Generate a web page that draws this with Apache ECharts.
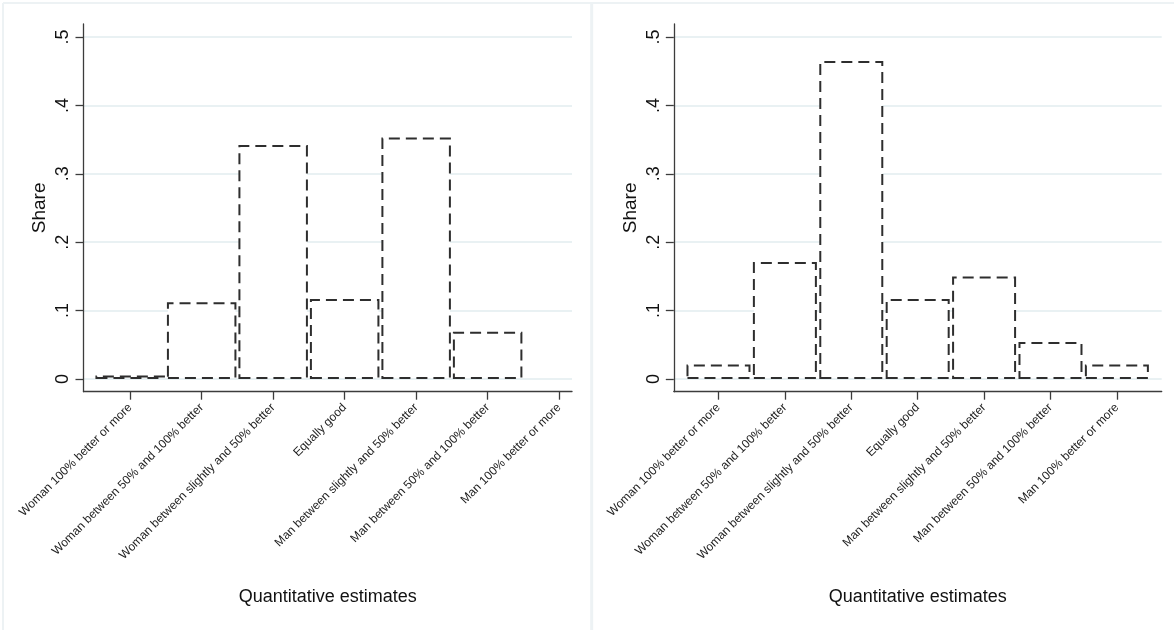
<!DOCTYPE html>
<html>
<head>
<meta charset="utf-8">
<script src="https://cdn.jsdelivr.net/npm/echarts@6/dist/echarts.min.js"></script>
<style>
  html, body { margin: 0; padding: 0; background: #fff; }
  #chart { width: 1174px; height: 630px; }
</style>
</head>
<body>
<div id="chart"></div>
<script>
const categories = [
  'Woman 100% better or more',
  'Woman between 50% and 100% better',
  'Woman between slightly and 50% better',
  'Equally good',
  'Man between slightly and 50% better',
  'Man between 50% and 100% better',
  'Man 100% better or more'
];
const categoryPositions = [1, 2, 3, 4, 5, 6, 7];
const leftShares = [0.005, 0.112, 0.342, 0.117, 0.353, 0.069, 0];
const rightShares = [0.021, 0.171, 0.465, 0.117, 0.150, 0.054, 0.021];
const yTicks = [0, 0.1, 0.2, 0.3, 0.4, 0.5];
const yTickLabels = ['0', '.1', '.2', '.3', '.4', '.5'];
const yTitle = 'Share';
const xTitle = 'Quantitative estimates';

const FONT = '"Liberation Sans", Arial, sans-serif';
const AXIS_COLOR = '#3c3c3c';
const GRID_COLOR = '#e2ecef';

function barData(values) {
  return categoryPositions.map((p, i) => [p, values[i] === 0 ? '-' : values[i]]);
}

function yAxisCfg(gridIndex) {
  return {
    type: 'value', gridIndex,
    min: -0.0186, max: 0.519,
    name: yTitle, nameLocation: 'middle', nameRotate: 90, nameGap: 34,
    nameTextStyle: { fontFamily: FONT, fontSize: 19, color: '#111' },
    axisLine: { show: true, lineStyle: { color: AXIS_COLOR, width: 1.3 } },
    axisTick: { show: true, length: 8, customValues: yTicks, lineStyle: { color: AXIS_COLOR, width: 1.3 } },
    axisLabel: {
      customValues: yTicks, rotate: 90, margin: 11,
      fontFamily: FONT, fontSize: 18, color: '#111',
      formatter: v => yTickLabels[yTicks.findIndex(t => Math.abs(t - v) < 1e-6)]
    },
    splitLine: { show: true, lineStyle: { color: GRID_COLOR, width: 1.5 } }
  };
}

function xAxisCfg(gridIndex, min, max) {
  return {
    type: 'value', gridIndex, min, max,
    name: xTitle, nameLocation: 'middle', nameGap: 196,
    nameTextStyle: { fontFamily: FONT, fontSize: 18, color: '#111' },
    axisLine: { show: true, onZero: false, lineStyle: { color: AXIS_COLOR, width: 1.3 } },
    axisTick: { show: true, length: 8, customValues: categoryPositions, lineStyle: { color: AXIS_COLOR, width: 1.3 } },
    axisLabel: {
      customValues: categoryPositions, rotate: 45, margin: 14,
      fontFamily: FONT, fontSize: 12, color: '#222',
      formatter: v => categories[Math.round(v) - 1]
    },
    splitLine: { show: false }
  };
}

function barSeries(idx, values, width) {
  return {
    type: 'bar', xAxisIndex: idx, yAxisIndex: idx,
    data: barData(values),
    barWidth: width,
    itemStyle: {
      color: '#ffffff',
      borderColor: '#2e2e2e',
      borderWidth: 2,
      borderType: [11, 6]
    },
    silent: true
  };
}

const chart = echarts.init(document.getElementById('chart'), null, { renderer: 'canvas' });
chart.setOption({
  animation: false,
  backgroundColor: '#ffffff',
  grid: [
    { left: 83.5, top: 24, width: 488.5, height: 367.7 },
    { left: 673.8, top: 24, width: 487.9, height: 367.7 }
  ],
  xAxis: [xAxisCfg(0, 0.347, 7.18), xAxisCfg(1, 0.327, 7.675)],
  yAxis: [yAxisCfg(0), yAxisCfg(1)],
  series: [barSeries(0, leftShares, 69.5), barSeries(1, rightShares, 64)],
  graphic: [
    { type: 'line', shape: { x1: 3, y1: 3, x2: 1174, y2: 3 }, style: { stroke: '#edf2f4', lineWidth: 2 }, silent: true },
    { type: 'line', shape: { x1: 3, y1: 3, x2: 3, y2: 630 }, style: { stroke: '#edf2f4', lineWidth: 2 }, silent: true },
    { type: 'line', shape: { x1: 591.7, y1: 3, x2: 591.7, y2: 630 }, style: { stroke: '#edf2f4', lineWidth: 3 }, silent: true }
  ]
});
</script>
</body>
</html>
